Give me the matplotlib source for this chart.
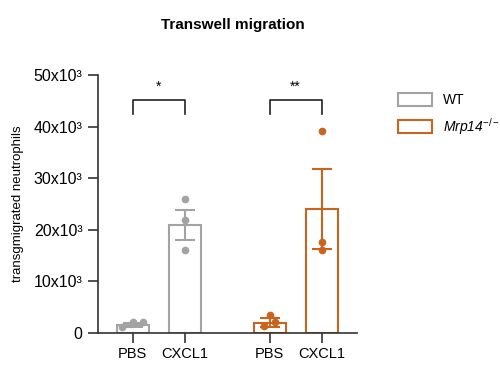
import matplotlib

matplotlib.use("Agg")

import matplotlib.pyplot as plt
import numpy as np
from matplotlib.patches import Patch

plt.rcParams["font.family"] = ["Liberation Sans", "DejaVu Sans"]
plt.rcParams["mathtext.fontset"] = "custom"
plt.rcParams["mathtext.rm"] = "Liberation Sans"
plt.rcParams["mathtext.it"] = "Liberation Sans:italic"

GROUPS = ["WT", "Mrp14"]
CONDITIONS = ["PBS", "CXCL1", "PBS", "CXCL1"]
POSITIONS = [0.0, 1.0, 2.63, 3.63]
MEANS = [1550, 21000, 2000, 24000]
SEMS = [300, 2900, 900, 7700]
POINTS = [
    [1230, 2200, 2200],
    [26000, 21900, 16000],
    [1400, 3400, 2100],
    [39200, 17600, 16000],
]
POINT_OFFSETS = [[-0.2, 0.0, 0.2], [0.0, 0.0, 0.0], [-0.1, 0.0, 0.1], [0.0, 0.0, 0.0]]
SIG_PAIRS = [(0, 1, "*"), (2, 3, "**")]
Y_TICKS = [0, 10000, 20000, 30000, 40000, 50000]
Y_TICK_LABELS = ["0", "10x10³", "20x10³", "30x10³", "40x10³", "50x10³"]

GRAY = "#a3a3a3"
ORANGE = "#c8641e"
COLORS = [GRAY, GRAY, ORANGE, ORANGE]
AXIS_COLOR = "#333333"

fig = plt.figure(figsize=(5.0, 3.81), dpi=100)
ax = fig.add_axes([0.196, 0.126, 0.518, 0.677])

ax.bar(POSITIONS, MEANS, width=0.62, color="white", edgecolor=COLORS, linewidth=1.5, zorder=2)
for pos, mean, sem, color in zip(POSITIONS, MEANS, SEMS, COLORS):
    ax.errorbar(pos, mean, yerr=sem, color=color, capsize=7, capthick=1.5, elinewidth=1.5, zorder=3)
for pos, pts, offs, color in zip(POSITIONS, POINTS, POINT_OFFSETS, COLORS):
    ax.plot(np.array(offs) + pos, pts, "o", color=color, markersize=4.5, zorder=4)

for i, j, label in SIG_PAIRS:
    y_top, y_low = 45200, 42400
    ax.plot([POSITIONS[i], POSITIONS[i], POSITIONS[j], POSITIONS[j]], [y_low, y_top, y_top, y_low],
            color="#222222", linewidth=1.2, clip_on=False)
    ax.text((POSITIONS[i] + POSITIONS[j]) / 2, 46400, label, ha="center", va="bottom", fontsize=10)

ax.set_xlim(-0.67, 4.31)
ax.set_ylim(0, 50000)
ax.set_xticks(POSITIONS)
ax.set_xticklabels(CONDITIONS, fontsize=10.5)
ax.set_yticks(Y_TICKS)
ax.set_yticklabels(Y_TICK_LABELS, fontsize=11.5)
ax.tick_params(axis="both", length=7, width=1.2, color=AXIS_COLOR, pad=3)
ax.tick_params(axis="y", pad=4)
ax.set_ylabel("transgmigrated neutrophils", fontsize=9.5, labelpad=7)
for side in ["top", "right"]:
    ax.spines[side].set_visible(False)
for side in ["left", "bottom"]:
    ax.spines[side].set_color(AXIS_COLOR)
    ax.spines[side].set_linewidth(1.2)

fig.text(0.466, 0.935, "Transwell migration", ha="center", va="center", fontsize=11, fontweight="bold")

handles = [
    Patch(facecolor="white", edgecolor=GRAY, linewidth=1.5, label="WT"),
    Patch(facecolor="white", edgecolor=ORANGE, linewidth=1.5, label=r"Mrp14$^{-/-}$"),
]
leg = ax.legend(handles=handles, loc="upper left", bbox_to_anchor=(1.11, 0.98), frameon=False,
                fontsize=10, handlelength=2.45, handleheight=1.08, handletextpad=0.8, labelspacing=0.65)
leg.get_texts()[1].set_fontstyle("italic")

fig.savefig("out.png", dpi=100)
